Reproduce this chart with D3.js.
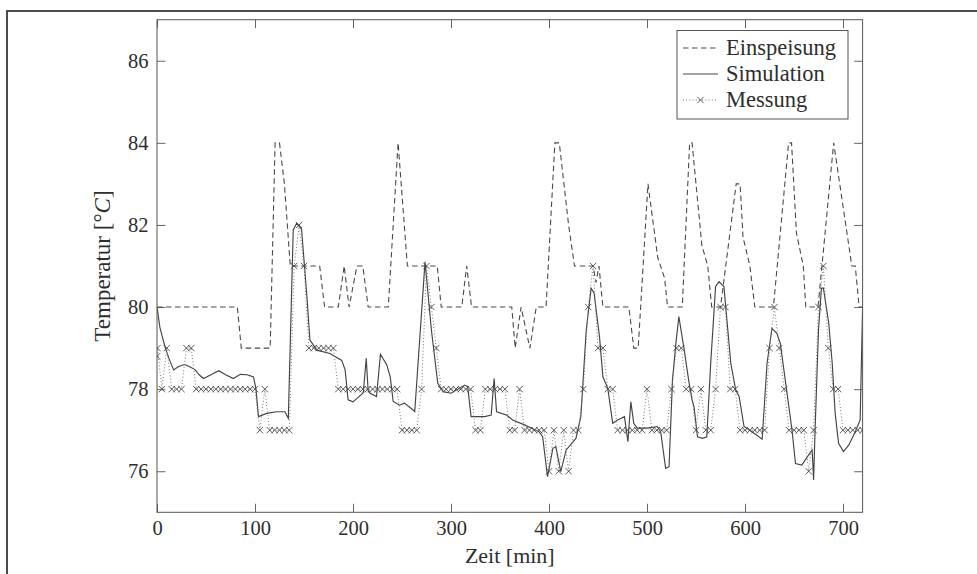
<!DOCTYPE html>
<html>
<head>
<meta charset="utf-8">
<script src="https://cdn.jsdelivr.net/npm/d3@7"></script>
<style>
  body { margin: 0; background: #fff; }
  text { font-family: "Liberation Serif", "DejaVu Serif", serif; fill: #2e2e2e; }
</style>
</head>
<body>
<svg id="drawing_region"></svg>
<script>
// Einspeisung (supply temperature), dashed
const einT = [0, 82, 86, 115.5, 120.5, 125, 130, 136, 166, 171, 185, 191, 196, 204, 210, 215.5, 236,
  246, 255.5, 286, 290, 311, 316, 321, 362, 365.5, 371.5, 380.5, 387, 397, 406, 410.5, 420, 426,
  445, 448, 451, 455, 481.5, 486.5, 491, 501, 511, 518, 521, 536, 543.5, 546, 556, 562, 566, 575,
  591, 595, 598, 605, 610, 629, 644.5, 647.5, 652.5, 659.5, 662, 674.5, 690.5, 709, 712.5, 716.5, 720];
const einV = [80, 80, 79, 79, 84, 84, 83, 81, 81, 80, 80, 81, 80, 81, 81, 80, 80,
  84, 81, 81, 80, 80, 81, 80, 80, 79, 80, 79, 80, 80, 84, 84, 82, 81,
  81, 80.6, 81, 80, 80, 79, 79, 83, 81.2, 80.7, 80, 80, 84, 84, 81.5, 81, 80, 80,
  83, 83, 81.7, 81, 80, 80, 84, 84, 81.8, 81, 80, 80, 84, 81, 81, 80, 80];

// Simulation, solid
const simT = [0, 3, 8.5, 13, 17, 22, 28, 33, 39, 43, 47.5, 55, 63, 70, 78, 85, 92, 98.5, 101, 103.5,
  112, 122, 130.5, 134, 139, 142.5, 147.5, 153, 156, 163, 176.5, 188.5, 192, 195, 200, 209, 210.5,
  213.5, 215.5, 217.5, 224, 228, 234.5, 238, 241, 247.5, 252.5, 261, 263, 273.5, 280, 286.5, 292,
  300, 314, 317, 320.5, 334.5, 341, 344, 346.5, 356.5, 363, 375, 390, 393.5, 398.5, 404, 407, 412,
  417.5, 427.5, 432.5, 438, 443, 446, 451.5, 455, 460, 465, 470, 477, 480.5, 483.5, 486.5, 490, 500,
  510.5, 514, 519, 522.5, 526, 529.5, 532.5, 538, 543, 546, 548, 551.5, 556.5, 561, 565, 570, 573.5,
  578.5, 585.5, 590.5, 594, 599, 605, 617.5, 622.5, 627.5, 632.5, 636, 648, 651.5, 658, 665, 668.5,
  670, 671.5, 675, 678, 680, 685.5, 689, 692, 695.5, 700.5, 706, 712.5, 717.5, 720];
const simV = [80, 79.5, 79.0, 78.7, 78.47, 78.55, 78.6, 78.55, 78.47, 78.35, 78.26, 78.35, 78.45, 78.35, 78.26, 78.36, 78.35, 78.3, 78.0, 77.33,
  77.41, 77.45, 77.45, 77.29, 81.88, 82.04, 81.9, 80.25, 79.2, 78.95, 78.87, 78.7, 78.47, 77.74, 77.69, 77.88, 77.92,
  78.75, 77.95, 77.9, 77.82, 78.85, 78.59, 78.3, 77.7, 77.61, 77.66, 77.5, 77.45, 81.1, 79.44, 78.14, 77.94,
  77.9, 78.1, 78.06, 77.33, 77.33, 77.37, 78.26, 77.45, 77.37, 77.25, 77.13, 76.96, 76.84, 75.87, 76.56, 76.6, 75.99,
  76.52, 76.8, 77.33, 79.44, 80.46, 80.34, 79.28, 78.3, 78.02, 77.17, 77.25, 77.33, 76.72, 77.69, 77.17, 77.05, 77.05,
  77.09, 76.96, 76.07, 76.11, 78.22, 79.12, 79.77, 78.95, 78.14, 77.74, 77.57, 76.84, 76.8, 76.84, 78.63, 80.5, 80.62,
  80.5, 78.63, 77.98, 77.82, 77.09, 77.0, 76.78, 78.63, 79.48, 79.36, 79.12, 77.0, 76.19, 76.15, 76.4, 76.52,
  75.79, 77.0, 79.44, 80.46, 80.46, 79.6, 78.63, 77.41, 76.68, 76.48, 76.64, 76.96, 77.25, 80];

// Messung, dotted with x marks
const mesT = [0, 0.5, 5, 10, 15, 20, 25, 30, 35, 40, 45, 50, 55, 60, 65, 70, 75, 80, 85, 90, 95, 100,
  105, 110, 115, 120, 125, 130, 135, 140, 145, 150, 155, 160, 165, 170, 175, 180, 185, 190, 195, 200,
  205, 210, 215, 220, 225, 230, 235, 240, 245, 250, 255, 260, 265, 270, 275, 280, 285, 290, 295, 300,
  305, 310, 315, 320, 325, 330, 335, 340, 345, 350, 355, 360, 365, 370, 375, 380, 385, 390, 395, 400,
  405, 410, 415, 420, 425, 430, 435, 440, 445, 450, 455, 460, 465, 470, 475, 480, 485, 490, 495, 500,
  505, 510, 515, 520, 525, 530, 535, 540, 545, 550, 555, 560, 565, 570, 575, 580, 585, 590, 595, 600,
  605, 610, 615, 620, 625, 630, 635, 640, 645, 650, 655, 660, 665, 670, 675, 680, 685, 690, 695, 700,
  705, 710, 715, 720];
const mesV = [78.8, 79, 78, 79, 78, 78, 78, 79, 79, 78, 78, 78, 78, 78, 78, 78, 78, 78, 78, 78, 78, 78,
  77, 78, 77, 77, 77, 77, 77, 81, 82, 81, 79, 79, 79, 79, 79, 79, 78, 78, 78, 78,
  78, 78, 78, 78, 78, 78, 78, 78, 78, 77, 77, 77, 77, 78, 81, 80, 79, 78, 78, 78,
  78, 78, 78, 78, 77, 77, 78, 78, 78, 78, 78, 77, 77, 78, 77, 77, 77, 77, 77, 76,
  77, 76, 77, 76, 77, 77, 78, 80, 81, 79, 79, 78, 78, 77, 77, 77, 77, 77, 77, 78,
  77, 77, 77, 77, 78, 79, 79, 78, 78, 77, 78, 77, 77, 78, 80, 80, 78, 78, 77, 77,
  77, 77, 77, 77, 79, 80, 79, 78, 77, 77, 77, 77, 76, 77, 80, 81, 79, 78, 78, 77,
  77, 77, 77, 77];

const xTicks = [0, 100, 200, 300, 400, 500, 600, 700];
const yTicks = [76, 78, 80, 82, 84, 86];
const legendNames = ["Einspeisung", "Simulation", "Messung"];

const W = 977, H = 574;
const svg = d3.select("#drawing_region").attr("width", W).attr("height", H);
svg.append("rect").attr("width", W).attr("height", H).attr("fill", "#fff");

// outer frame (runs past the right and bottom edge)
svg.append("rect")
  .attr("x", 7).attr("y", 11).attr("width", W + 20).attr("height", H + 20)
  .attr("fill", "none").attr("stroke", "#3a3a3a").attr("stroke-width", 1.8);

const pL = 157, pR = 862.6, pT = 19.7, pB = 512.3;
const xscale = d3.scaleLinear().domain([0, 720]).range([pL, pR]);
const yscale = d3.scaleLinear().domain([75, 87]).range([pB, pT]);

svg.append("clipPath").attr("id", "clip")
  .append("rect").attr("x", pL).attr("y", pT)
  .attr("width", pR - pL).attr("height", pB - pT);

const tickLen = 8.5;
const axisStyle = g => {
  g.select(".domain").remove();
  g.selectAll(".tick line").attr("stroke", "#555").attr("stroke-width", 0.9);
  g.selectAll(".tick text").attr("font-size", 20.5).attr("fill", "#2e2e2e");
};

svg.append("g").attr("transform", `translate(0,${pB})`)
  .call(d3.axisBottom(xscale).tickValues(xTicks).tickSize(-tickLen).tickPadding(8.5))
  .call(axisStyle);
svg.append("g").attr("transform", `translate(0,${pT})`)
  .call(d3.axisTop(xscale).tickValues(xTicks).tickSize(-tickLen).tickFormat(""))
  .call(axisStyle);
svg.append("g").attr("transform", `translate(${pL},0)`)
  .call(d3.axisLeft(yscale).tickValues(yTicks).tickSize(-tickLen).tickPadding(8.5))
  .call(axisStyle);
svg.append("g").attr("transform", `translate(${pR},0)`)
  .call(d3.axisRight(yscale).tickValues(yTicks).tickSize(-tickLen).tickFormat(""))
  .call(axisStyle);

const plot = svg.append("g").attr("clip-path", "url(#clip)");

const line = d3.line().x(d => xscale(d[0])).y(d => yscale(d[1]));
const ein = einT.map((t, i) => [t, einV[i]]);
const sim = simT.map((t, i) => [t, simV[i]]);
const mes = mesT.map((t, i) => [t, mesV[i]]);

plot.append("path").datum(ein).attr("d", line)
  .attr("fill", "none").attr("stroke", "#4a4a4a").attr("stroke-width", 1.1)
  .attr("stroke-dasharray", "5.5,3.5");
plot.append("path").datum(sim).attr("d", line)
  .attr("fill", "none").attr("stroke", "#444").attr("stroke-width", 1.15);
plot.append("path").datum(mes).attr("d", line)
  .attr("fill", "none").attr("stroke", "#777").attr("stroke-width", 1)
  .attr("stroke-dasharray", "1,2.2");

const cross = d3.symbol().type(d3.symbolX).size(28);
plot.selectAll(".mk").data(mes).join("path")
  .attr("class", "mk")
  .attr("transform", d => `translate(${xscale(d[0])},${yscale(d[1])})`)
  .attr("d", cross)
  .attr("fill", "none").attr("stroke", "#4a4a4a").attr("stroke-width", 0.9);

// plot box
svg.append("rect")
  .attr("x", pL).attr("y", pT).attr("width", pR - pL).attr("height", pB - pT)
  .attr("fill", "none").attr("stroke", "#555").attr("stroke-width", 1);

// axis labels
svg.append("text").attr("x", (pL + pR) / 2).attr("y", 563)
  .attr("text-anchor", "middle").attr("font-size", 22).text("Zeit [min]");
const ylab = svg.append("text")
  .attr("transform", `translate(110,${(pT + pB) / 2}) rotate(-90)`)
  .attr("text-anchor", "middle").attr("font-size", 23);
ylab.append("tspan").text("Temperatur [°");
ylab.append("tspan").attr("font-style", "italic").text("C");
ylab.append("tspan").text("]");

// legend
const lg = svg.append("g");
lg.append("rect").attr("x", 677).attr("y", 30.5).attr("width", 171).attr("height", 88.5)
  .attr("fill", "#fff").attr("stroke", "#555").attr("stroke-width", 1);
const rowY = [48, 74, 100];
const dashes = ["5.5,3.5", null, "1,2.2"];
legendNames.forEach((name, i) => {
  const p = lg.append("line").attr("x1", 683).attr("x2", 718)
    .attr("y1", rowY[i]).attr("y2", rowY[i])
    .attr("stroke", i === 2 ? "#777" : "#4a4a4a").attr("stroke-width", 1.1);
  if (dashes[i]) p.attr("stroke-dasharray", dashes[i]);
  if (i === 2) {
    lg.append("path").attr("transform", `translate(700.5,${rowY[i]})`).attr("d", cross)
      .attr("fill", "none").attr("stroke", "#4a4a4a").attr("stroke-width", 0.9);
  }
  lg.append("text").attr("x", 726).attr("y", rowY[i] + 7).attr("font-size", 22.5).text(name);
});
</script>
</body>
</html>
